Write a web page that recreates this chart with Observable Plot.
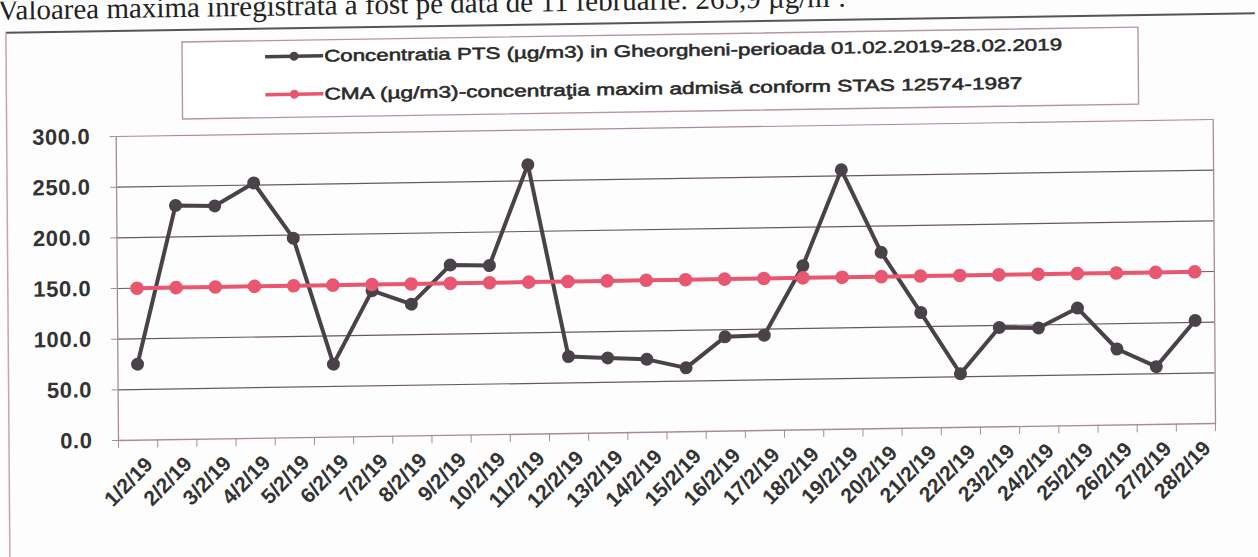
<!DOCTYPE html>
<html><head><meta charset="utf-8">
<script src="https://cdn.jsdelivr.net/npm/d3@7"></script>
<script src="https://cdn.jsdelivr.net/npm/@observablehq/plot@0.6"></script>
<style>
html,body{margin:0;padding:0;background:#fdfdfd;overflow:hidden;width:1258px;height:557px}
#page{position:absolute;left:0;top:0;width:1258px;height:557px;transform-origin:118px 440px;transform:matrix(1,-0.0155,0.0076,1,0,0)}
#deco,#chart{position:absolute;left:0;top:0}
#chart svg{overflow:visible}
g[aria-label="y-axis tick label"] text{letter-spacing:0.6px}
</style>
</head><body>
<div id="page">
<svg id="deco" width="1258" height="557" xmlns="http://www.w3.org/2000/svg"></svg>
<div id="chart"></div>
</div>
<script>
// ---- data ----
const heading = "Valoarea maxima inregistrata a fost pe data de 11 februarie: 265,9 µg/m³.";
const seriesNames = [
  "Concentratia PTS (µg/m3) in Gheorgheni-perioada 01.02.2019-28.02.2019",
  "CMA (µg/m3)-concentraţia maxim admisă conform STAS 12574-1987"
];
const dates = ["1/2/19","2/2/19","3/2/19","4/2/19","5/2/19","6/2/19","7/2/19","8/2/19","9/2/19","10/2/19",
  "11/2/19","12/2/19","13/2/19","14/2/19","15/2/19","16/2/19","17/2/19","18/2/19","19/2/19","20/2/19",
  "21/2/19","22/2/19","23/2/19","24/2/19","25/2/19","26/2/19","27/2/19","28/2/19"];
const pts = [75, 231, 230, 252, 197, 72, 144, 130, 168, 167, 265.9, 76, 74, 72, 63, 93, 94, 162, 256, 174, 114, 53, 98, 97, 116, 75, 57, 102];
const cma = [150,150,150,150,150,150,150,150,150,150,150,150,150,150,150,150,150,150,150,150,150,150,150,150,150,150,150,150];
const yTicks = [0, 50, 100, 150, 200, 250, 300];

// ---- styles ----
const darkC = "#4a4249";
const redC = "#e8566f";
const gridC = "#6a585f";
const frameC = "#a98b93";
const textC = "#333333";
const fontF = "'Liberation Sans', Arial, sans-serif";

// ---- decoration: heading, outer frame, legend ----
const deco = d3.select("#deco");
deco.append("text").attr("x", 1).attr("y", 18)
  .attr("font-family", "'Liberation Serif', 'Times New Roman', serif").attr("font-size", 29)
  .attr("fill", "#222").text(heading);
deco.append("line").attr("x1", 9).attr("x2", 1300).attr("y1", 31).attr("y2", 31).attr("stroke", "#555").attr("stroke-width", 2);
deco.append("line").attr("x1", 9).attr("x2", 9).attr("y1", 31).attr("y2", 560).attr("stroke", "#c9a3ac").attr("stroke-width", 1.5);
deco.append("line").attr("x1", 9).attr("x2", 1300).attr("y1", 559).attr("y2", 559).attr("stroke", "#666").attr("stroke-width", 2);
deco.append("rect").attr("x", 185).attr("y", 43).attr("width", 956).attr("height", 77)
  .attr("fill", "#fff").attr("stroke", "#b8949c").attr("stroke-width", 1.4);
const legendRows = [
  {name: seriesNames[0], color: darkC, y: 59, len: 738},
  {name: seriesNames[1], color: redC, y: 97, len: 698}
];
for (const r of legendRows) {
  deco.append("line").attr("x1", 268).attr("x2", 326).attr("y1", r.y).attr("y2", r.y)
    .attr("stroke", r.color).attr("stroke-width", 3.5);
  deco.append("circle").attr("cx", 297).attr("cy", r.y).attr("r", 4.5).attr("fill", r.color);
  deco.append("text").attr("x", 327).attr("y", r.y + 5.8)
    .attr("font-family", fontF).attr("font-size", 16.5).attr("fill", "#2a2a2a")
    .attr("stroke", "#2a2a2a").attr("stroke-width", 0.55)
    .attr("textLength", r.len).attr("lengthAdjust", "spacingAndGlyphs").text(r.name);
}

// ---- chart ----
const edges = dates.map((d, i) => i - 0.5).concat([dates.length - 0.5]);
const chart = Plot.plot({
  width: 1258, height: 557,
  marginLeft: 118, marginRight: 43, marginTop: 136, marginBottom: 117,
  x: {type: "linear", domain: [-0.5, dates.length - 0.5], axis: null},
  y: {domain: [0, 300], axis: null},
  style: {fontFamily: fontF, background: "transparent", overflow: "visible"},
  marks: [
    Plot.ruleY(yTicks.filter(v => v > 0 && v < 300), {stroke: gridC, strokeWidth: 1.2}),
    Plot.ruleY([300], {stroke: frameC, strokeWidth: 1.2}),
    Plot.ruleX([edges[0], edges[edges.length - 1]], {stroke: frameC, strokeWidth: 1.3}),
    Plot.ruleY([0], {stroke: frameC, strokeWidth: 1.4}),
    Plot.axisY({ticks: yTicks, tickSize: 6, tickPadding: 20, tickFormat: d3.format(".1f"),
      fontSize: 22, fontWeight: "bold", fill: textC, stroke: frameC, label: null}),
    Plot.axisX({ticks: edges, tickSize: 8, tickFormat: () => "", stroke: frameC, label: null}),
    Plot.text(dates, {x: (d, i) => i, frameAnchor: "bottom", text: d => d, rotate: -45,
      textAnchor: "end", lineAnchor: "middle", dx: 11, dy: 21,
      fontSize: 21, fontWeight: "bold", fill: textC}),
    Plot.line(pts, {x: (d, i) => i, y: d => d, stroke: darkC, strokeWidth: 4}),
    Plot.dot(pts, {x: (d, i) => i, y: d => d, r: 6.5, fill: darkC}),
    Plot.line(cma, {x: (d, i) => i, y: d => d, stroke: redC, strokeWidth: 4}),
    Plot.dot(cma, {x: (d, i) => i, y: d => d, r: 6.8, fill: redC})
  ]
});
document.getElementById("chart").appendChild(chart);
</script>
</body></html>
